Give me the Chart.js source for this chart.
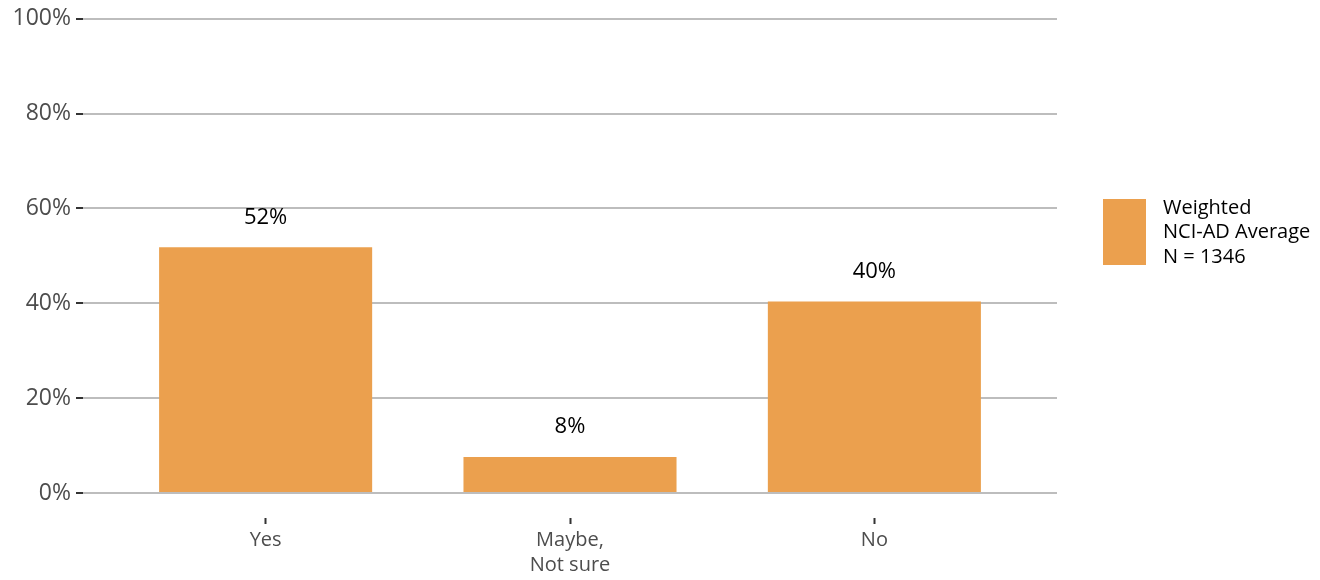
<!DOCTYPE html>
<html>
<head>
<meta charset="utf-8">
<script src="https://cdn.jsdelivr.net/npm/chart.js@4/dist/chart.umd.min.js"></script>
<style>
  html, body { margin: 0; padding: 0; background: #fff; }
  #wrap { width: 1320px; height: 580px; position: relative; }
</style>
</head>
<body>
<div id="wrap"><canvas id="surveyChart"></canvas></div>
<script>
const categories = [['Yes'], ['Maybe,', 'Not sure'], ['No']];
const shares = [51.8, 7.6, 40.4];
const yTicks = [0, 20, 40, 60, 80, 100];
const legendLines = ['Weighted', 'NCI-AD Average', 'N = 1346'];

const barColor = '#eba04e';
const font = '"Open Sans", "DejaVu Sans", sans-serif';

// value labels above each bar
const valueLabels = {
    id: 'valueLabels',
    afterDatasetsDraw(chart) {
        const ctx = chart.ctx;
        const meta = chart.getDatasetMeta(0);
        ctx.save();
        ctx.font = '22px ' + font;
        ctx.fillStyle = '#000';
        ctx.textAlign = 'center';
        ctx.textBaseline = 'middle';
        meta.data.forEach((bar, i) => {
            ctx.fillText(Math.round(shares[i]) + '%', bar.x, bar.y - 30);
        });
        ctx.restore();
    }
};

// legend on the right, multi-line label
const sideLegend = {
    id: 'sideLegend',
    afterDraw(chart) {
        const ctx = chart.ctx;
        const x0 = chart.chartArea.right + 46;
        ctx.save();
        ctx.fillStyle = barColor;
        ctx.fillRect(x0, 199, 43, 66);
        ctx.font = '20px ' + font;
        ctx.fillStyle = '#000';
        ctx.textAlign = 'left';
        ctx.textBaseline = 'middle';
        legendLines.forEach((line, i) => {
            ctx.fillText(line, x0 + 60, 208 + i * 24.5);
        });
        ctx.restore();
    }
};

new Chart(document.getElementById('surveyChart'), {
    type: 'bar',
    data: {
        datasets: [{
            data: shares.map((v, i) => ({ x: i, y: v })),
            backgroundColor: barColor,
            borderWidth: 0,
            categoryPercentage: 0.7,
            barPercentage: 1
        }]
    },
    options: {
        responsive: true,
        maintainAspectRatio: false,
        animation: false,
        layout: { padding: { top: 18, right: 263, left: 0, bottom: 0 } },
        plugins: {
            legend: { display: false },
            tooltip: { enabled: false }
        },
        scales: {
            x: {
                type: 'linear',
                offset: false,
                min: -0.6,
                max: categories.length - 0.4,
                afterBuildTicks: scale => {
                    scale.ticks = categories.map((c, i) => ({ value: i }));
                },
                afterFit: scale => { scale.height = 87; },
                border: { display: false },
                grid: {
                    offset: false,
                    drawOnChartArea: false,
                    tickLength: 31,
                    tickColor: '#333',
                    tickWidth: 2,
                    tickBorderDash: [0, 25, 6, 10]
                },
                ticks: {
                    padding: 4,
                    color: '#4d4d4d',
                    font: { family: font, size: 20, lineHeight: 1.25 },
                    callback: v => categories[v]
                }
            },
            y: {
                min: 0,
                max: 100,
                afterBuildTicks: scale => {
                    scale.ticks = yTicks.map(v => ({ value: v }));
                },
                afterFit: scale => { scale.width = 83; },
                border: { display: false },
                grid: {
                    color: '#bdbdbd',
                    lineWidth: 2,
                    tickLength: 7,
                    tickColor: '#333',
                    tickWidth: 2
                },
                ticks: {
                    padding: 5,
                    color: '#4d4d4d',
                    font: { family: font, size: 23 },
                    callback: v => v + '%'
                }
            }
        }
    },
    plugins: [valueLabels, sideLegend]
});
</script>
</body>
</html>
